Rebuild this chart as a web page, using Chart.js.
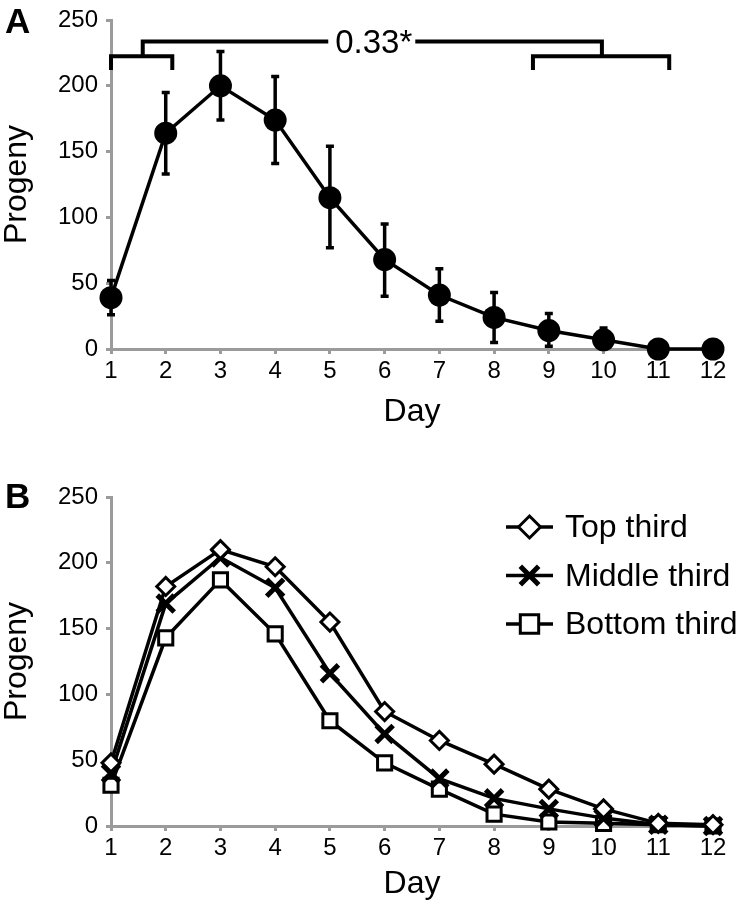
<!DOCTYPE html>
<html>
<head>
<meta charset="utf-8">
<title>Progeny by day</title>
<script src="https://cdn.jsdelivr.net/npm/chart.js@4.4.1/dist/chart.umd.min.js"></script>
<style>
  html, body { margin: 0; padding: 0; background: #fff; }
  #wrap { position: relative; width: 747px; height: 907px; }
  #chartA { position: absolute; left: 0; top: 0; }
  #chartB { position: absolute; left: 0; top: 477px; }
</style>
</head>
<body>
<div id="wrap">
  <canvas id="chartA" width="747" height="440"></canvas>
  <canvas id="chartB" width="747" height="430"></canvas>
</div>
<script>
// ---- data ----
const days = [1, 2, 3, 4, 5, 6, 7, 8, 9, 10, 11, 12];

// panel A: mean progeny with error bar ends
const progenyMean = [39, 164, 200, 174, 115, 68, 41, 24, 14, 7, 0, 0];
const progenyHigh = [52, 195, 226, 207, 154, 95, 61, 43, 27, 16, 0, 0];
const progenyLow  = [26, 133, 174, 141, 77, 40, 21, 5, 2, 0, 0, 0];

// panel B: by position
const topThird    = [48, 182, 210, 197, 155, 87, 65, 47, 28, 13, 2, 1];
const middleThird = [40, 169, 204, 181, 116, 70, 36, 21, 13, 6, 1, 0];
const bottomThird = [31, 143, 187, 146, 80, 48, 28, 9, 3, 2, 1, 0];

const yTicks = [0, 50, 100, 150, 200, 250];
const sigLabel = '0.33*';

// ---- look ----
Chart.defaults.font.family = "'Liberation Sans', Arial, Helvetica, sans-serif";
Chart.defaults.color = '#000';
const AXIS_GRAY = '#9b9b9b';
const FONT = "'Liberation Sans', Arial, Helvetica, sans-serif";

const toPts = arr => arr.map((v, i) => ({ x: days[i], y: v }));

function axisScales(xHeight, titlePad) {
  return {
    x: {
      type: 'linear',
      min: days[0],
      max: days[days.length - 1],
      afterFit: s => { s.height = xHeight; },
      border: { color: AXIS_GRAY, width: 3 },
      grid: { drawOnChartArea: false, color: AXIS_GRAY, lineWidth: 3, tickLength: 5 },
      ticks: { stepSize: 1, padding: 5, autoSkip: false, maxRotation: 0, font: { size: 24, lineHeight: 1 } },
      title: { display: true, text: 'Day', font: { size: 32, lineHeight: 1 }, padding: { top: 0, bottom: titlePad } }
    },
    y: {
      min: yTicks[0],
      max: yTicks[yTicks.length - 1],
      afterFit: s => { s.width = 111; },
      afterBuildTicks: s => { s.ticks = yTicks.map(v => ({ value: v })); },
      border: { color: AXIS_GRAY, width: 3 },
      grid: { drawOnChartArea: false, color: AXIS_GRAY, lineWidth: 3, tickLength: 5 },
      ticks: { padding: 8, font: { size: 24, lineHeight: 1 } },
      title: { display: true, text: 'Progeny', font: { size: 32, lineHeight: 1 }, padding: { top: 1, bottom: 0 } }
    }
  };
}

// panel letter in the top-left corner
const panelLetter = {
  id: 'panelLetter',
  afterDraw(chart, args, opts) {
    const ctx = chart.ctx;
    ctx.save();
    ctx.font = 'bold 35px ' + FONT;
    ctx.fillStyle = '#000';
    ctx.textBaseline = 'alphabetic';
    ctx.fillText(opts.text, 5, opts.baseline);
    ctx.restore();
  }
};

// vertical error bars with small caps
const errorBars = {
  id: 'errorBars',
  beforeDatasetsDraw(chart, args, opts) {
    const { ctx, scales: { x, y } } = chart;
    ctx.save();
    ctx.strokeStyle = '#000';
    ctx.lineWidth = 3.5;
    days.forEach((d, i) => {
      if (opts.high[i] - opts.low[i] <= 0) return;
      const px = x.getPixelForValue(d);
      const top = y.getPixelForValue(opts.high[i]);
      const bot = y.getPixelForValue(opts.low[i]);
      ctx.beginPath();
      ctx.moveTo(px, top); ctx.lineTo(px, bot);
      ctx.moveTo(px - 4, top); ctx.lineTo(px + 4, top);
      ctx.moveTo(px - 4, bot); ctx.lineTo(px + 4, bot);
      ctx.stroke();
    });
    ctx.restore();
  }
};

// comparison bracket: days 1-2 vs days 9-11
const bracket = {
  id: 'bracket',
  afterDraw(chart, args, o) {
    const { ctx, scales: { x, y } } = chart;
    const X = v => x.getPixelForValue(v);
    const Y = v => y.getPixelForValue(v);
    ctx.save();
    ctx.strokeStyle = '#000';
    ctx.lineWidth = 4;
    ctx.lineCap = 'butt';
    ctx.beginPath();
    // top line, broken by the label
    ctx.moveTo(X(o.leftJoint), Y(o.arm)); ctx.lineTo(X(o.leftJoint), Y(o.top));
    ctx.lineTo(X(o.gapFrom), Y(o.top));
    ctx.moveTo(X(o.gapTo), Y(o.top)); ctx.lineTo(X(o.rightJoint), Y(o.top));
    ctx.lineTo(X(o.rightJoint), Y(o.arm));
    // left and right arms
    [o.left, o.right].forEach(([a, b]) => {
      ctx.moveTo(X(a), Y(o.foot)); ctx.lineTo(X(a), Y(o.arm));
      ctx.lineTo(X(b), Y(o.arm)); ctx.lineTo(X(b), Y(o.foot));
    });
    ctx.stroke();
    ctx.font = '33px ' + FONT;
    ctx.fillStyle = '#000';
    ctx.textAlign = 'center';
    ctx.textBaseline = 'middle';
    ctx.fillText(o.text, X(o.textAt), Y(o.top) + 2);
    ctx.restore();
  }
};

// legend: short line with marker, then label
const lineLegend = {
  id: 'lineLegend',
  afterDraw(chart, args, opts) {
    const ctx = chart.ctx;
    ctx.save();
    chart.data.datasets.forEach((ds, i) => {
      const yy = opts.y + i * opts.spacing;
      const mx = opts.x + opts.lineLen / 2;
      ctx.strokeStyle = '#000';
      ctx.lineWidth = 3.5;
      ctx.beginPath();
      ctx.moveTo(opts.x, yy); ctx.lineTo(opts.x + opts.lineLen, yy);
      ctx.stroke();
      ctx.fillStyle = ds.pointBackgroundColor;
      ctx.lineWidth = ds.pointBorderWidth;
      Chart.helpers.drawPoint(ctx, {
        pointStyle: ds.pointStyle,
        radius: opts.radius[i],
        rotation: 0,
        borderWidth: ds.pointBorderWidth
      }, mx, yy);
      ctx.fillStyle = '#000';
      ctx.font = '32px ' + FONT;
      ctx.textAlign = 'left';
      ctx.textBaseline = 'middle';
      ctx.fillText(ds.label, opts.x + opts.textGap, yy + 1.5);
    });
    ctx.restore();
  }
};

// ---- panel A ----
new Chart(document.getElementById('chartA'), {
  type: 'line',
  data: {
    datasets: [{
      label: 'Progeny',
      data: toPts(progenyMean),
      borderColor: '#000',
      borderWidth: 3.5,
      pointRadius: 11.5,
      pointBackgroundColor: '#000',
      pointBorderWidth: 0,
      tension: 0,
      clip: false
    }]
  },
  options: {
    responsive: false,
    animation: false,
    layout: { padding: { top: 12, right: 34, left: 0, bottom: 0 } },
    scales: axisScales(91, 12),
    plugins: {
      legend: { display: false },
      tooltip: { enabled: false },
      panelLetter: { text: 'A', baseline: 33 },
      errorBars: { high: progenyHigh, low: progenyLow },
      bracket: {
        text: sigLabel,
        top: 233.7, arm: 222.5, foot: 212,
        left: [1, 2.12], leftJoint: 1.58,
        right: [8.71, 11.2], rightJoint: 9.97,
        gapFrom: 4.97, gapTo: 6.56, textAt: 5.8
      }
    }
  },
  plugins: [errorBars, bracket, panelLetter]
});

// ---- panel B ----
new Chart(document.getElementById('chartB'), {
  type: 'line',
  data: {
    datasets: [
      {
        label: 'Top third',
        data: toPts(topThird),
        borderColor: '#000', borderWidth: 3.5, tension: 0, clip: false,
        pointStyle: 'rectRot', pointRadius: 9,
        pointBackgroundColor: '#fff', pointBorderColor: '#000', pointBorderWidth: 3
      },
      {
        label: 'Middle third',
        data: toPts(middleThird),
        borderColor: '#000', borderWidth: 3.5, tension: 0, clip: false,
        pointStyle: 'crossRot', pointRadius: 12,
        pointBackgroundColor: '#000', pointBorderColor: '#000', pointBorderWidth: 5
      },
      {
        label: 'Bottom third',
        data: toPts(bottomThird),
        borderColor: '#000', borderWidth: 3.5, tension: 0, clip: false,
        pointStyle: 'rect', pointRadius: 10,
        pointBackgroundColor: '#fff', pointBorderColor: '#000', pointBorderWidth: 3
      }
    ]
  },
  options: {
    responsive: false,
    animation: false,
    layout: { padding: { top: 12, right: 34, left: 0, bottom: 0 } },
    scales: axisScales(81, 7),
    plugins: {
      legend: { display: false },
      tooltip: { enabled: false },
      panelLetter: { text: 'B', baseline: 31 },
      lineLegend: { x: 506, y: 50, spacing: 48.5, lineLen: 47, textGap: 59, radius: [11, 13, 13] }
    }
  },
  plugins: [lineLegend, panelLetter]
});
</script>
</body>
</html>
